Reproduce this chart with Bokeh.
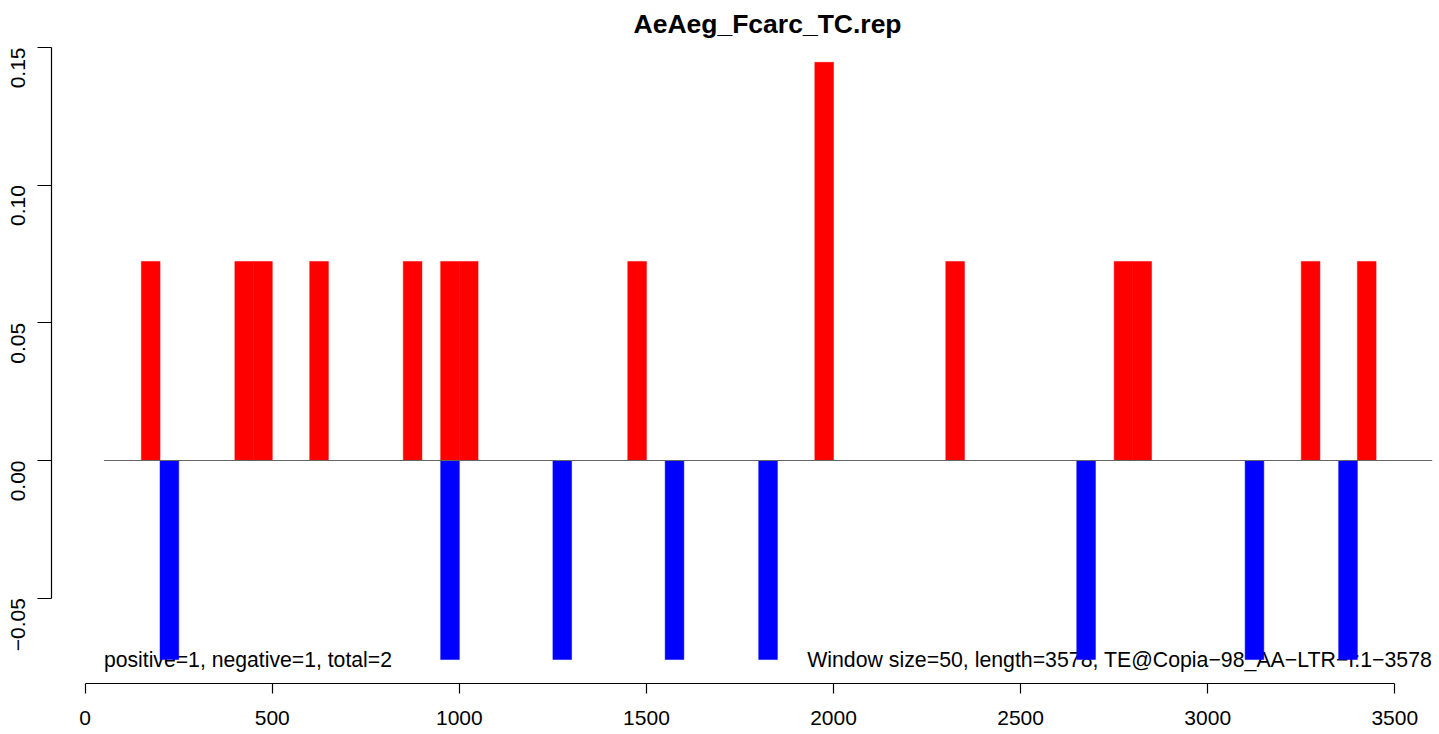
import math
from bokeh.plotting import figure
from bokeh.models import Range1d, FixedTicker, Title
from bokeh.core.properties import value
from bokeh.embed import file_html
from bokeh.resources import INLINE

# ---- data ----
title = "AeAeg_Fcarc_TC.rep"
window_size = 50
seq_length = 3578
te_name = "TE@Copia\u221298_AA\u2212LTR\u2212I"
n_positive = 1
n_negative = 1
n_total = 2

pos_starts = [150, 400, 450, 600, 850, 950, 1000, 1450, 1950, 2300, 2750, 2800, 3250, 3400]
pos_values = [0.0723, 0.0723, 0.0723, 0.0723, 0.0723, 0.0723, 0.0723, 0.0723, 0.1446,
              0.0723, 0.0723, 0.0723, 0.0723, 0.0723]
neg_starts = [200, 950, 1250, 1550, 1800, 2650, 3100, 3350]
neg_values = [-0.0723, -0.0723, -0.0723, -0.0723, -0.0723, -0.0723, -0.0723, -0.0723]

x_ticks = [0, 500, 1000, 1500, 2000, 2500, 3000, 3500]
y_ticks = [-0.05, 0.0, 0.05, 0.10, 0.15]
y_tick_labels = ["\u22120.05", "0.00", "0.05", "0.10", "0.15"]

# ---- layout ----
FONT = "Liberation Sans"
W, H = 1439, 734
BL, BR, BT, BB = 51, 0, 38, 51
x0, x1 = -90.07, 3619.5
y0, y1 = -0.08099, 0.15327

p = figure(width=W, height=H, x_range=Range1d(x0, x1), y_range=Range1d(y0, y1),
           output_backend="svg", toolbar_location=None, title=None,
           min_border_left=BL, min_border_right=BR, min_border_top=BT, min_border_bottom=BB)
p.outline_line_color = None
p.xgrid.visible = False
p.ygrid.visible = False
p.background_fill_color = "white"
p.border_fill_color = "white"

seq_end = math.ceil(seq_length / window_size) * window_size

# annotation texts (drawn below bars)
left_text = f"positive={n_positive}, negative={n_negative}, total={n_total}"
right_text = f"Window size={window_size}, length={seq_length}, {te_name}:1\u2212{seq_length}"
ybase = min(neg_values)
p.text(x=[window_size], y=[ybase], text=[left_text], text_font=value(FONT),
       text_font_size="21.2px", text_align="left", text_baseline="alphabetic", text_color="black")
p.text(x=[seq_end], y=[ybase], text=[right_text], text_font=value(FONT),
       text_font_size="21.3px", text_align="right", text_baseline="alphabetic", text_color="black")

# bars
p.quad(left=pos_starts, right=[s + window_size for s in pos_starts], bottom=0, top=pos_values,
       fill_color="#FF0000", line_color="#FF0000", line_width=0.5)
p.quad(left=neg_starts, right=[s + window_size for s in neg_starts], bottom=neg_values, top=0,
       fill_color="#0000FF", line_color="#0000FF", line_width=0.5)

# zero line
p.line(x=[window_size, seq_end], y=[0, 0], line_color="#666666", line_width=1)

# axes
xa = p.xaxis[0]
xa.ticker = FixedTicker(ticks=x_ticks, minor_ticks=[])
xa.bounds = (x_ticks[0], x_ticks[-1])
xa.major_tick_out = 10
xa.major_tick_in = 0
xa.minor_tick_out = 0
xa.minor_tick_in = 0
xa.axis_line_width = 1.2
xa.major_tick_line_width = 1.2
xa.major_label_text_font = FONT
xa.major_label_text_font_size = "21px"
xa.major_label_text_color = "black"
xa.major_label_standoff = 17

ya = p.yaxis[0]
ya.ticker = FixedTicker(ticks=y_ticks, minor_ticks=[])
ya.bounds = (y_ticks[0], y_ticks[-1])
ya.major_label_overrides = {t: l for t, l in zip(y_ticks, y_tick_labels)}
ya.major_tick_out = 14
ya.major_tick_in = 0
ya.minor_tick_out = 0
ya.minor_tick_in = 0
ya.axis_line_width = 1.2
ya.major_tick_line_width = 1.2
ya.major_label_text_font = FONT
ya.major_label_text_font_size = "21px"
ya.major_label_text_color = "black"
ya.major_label_orientation = math.pi / 2
ya.major_label_standoff = 19

# title
p.title = Title(text=title, align="left", offset=582, standoff=0,
                text_font=FONT, text_font_style="bold", text_font_size="26.5px",
                text_color="black")

open("out.html", "w").write(file_html(p, INLINE))
